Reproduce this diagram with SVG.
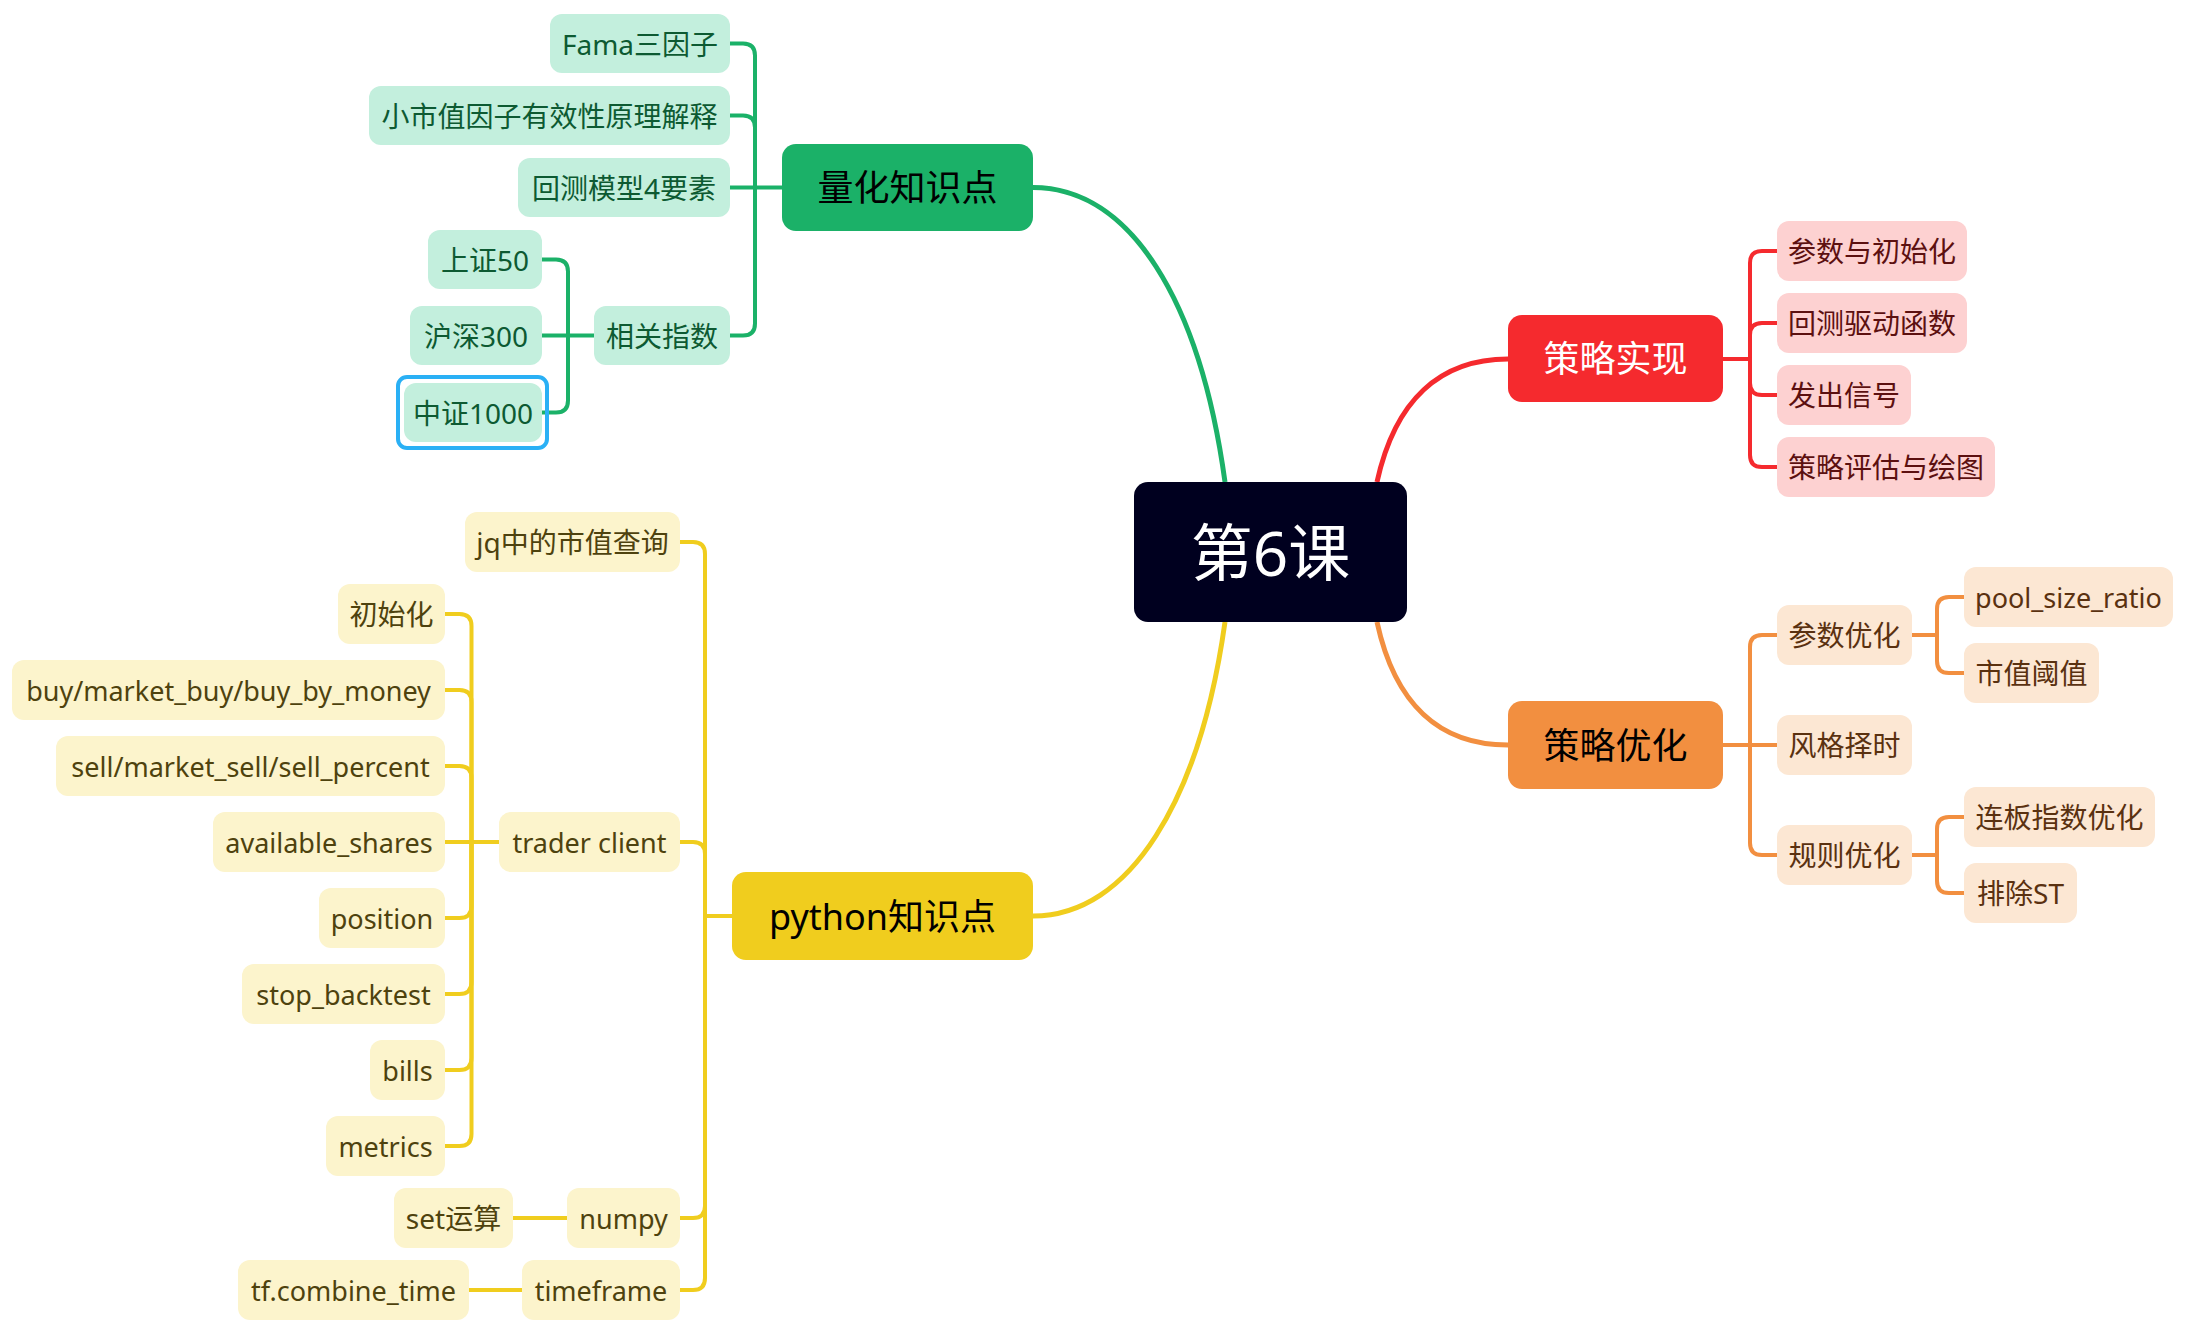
<svg xmlns="http://www.w3.org/2000/svg" width="2210" height="1336" viewBox="0 0 2210 1336">
<style>
text{font-family:"Noto Sans","Noto Sans CJK SC",sans-serif;text-anchor:middle;dominant-baseline:central}
.sub{font-size:28px}
.sub .lat{font-size:27px}
.main{font-size:36px}
.ln{fill:none;stroke-width:4;stroke-linecap:round}
.mc{fill:none;stroke-width:5}
.g{stroke:#1bb168}.r{stroke:#f52a2e}.o{stroke:#f28f40}.y{stroke:#f0cd1e}
.gs rect{fill:#c3efdd}.gs text{fill:#0d5a32}
.rs rect{fill:#fdd1d1}.rs text{fill:#5c1010}
.os rect{fill:#fce7d3}.os text{fill:#5a3110}
.ys rect{fill:#fcf4cc}.ys text{fill:#4e420e}
</style>
<rect width="2210" height="1336" fill="#ffffff"/>
<g id="connectors">
<path class="mc g" d="M1225,482 C1200,300 1130,187.5 1033,187.5"/>
<path class="mc r" d="M1377,482 C1395,400 1440,359 1508,359"/>
<path class="mc o" d="M1377,622 C1395,705 1440,745 1508,745"/>
<path class="mc y" d="M1225,622 C1200,800 1130,916 1033,916"/>
<g class="g">
<path class="ln" d="M782,187.5 H730"/>
<path class="ln" d="M755,187.5 V55.5 Q755,43.5 743,43.5 H730"/>
<path class="ln" d="M755,187.5 V127.5 Q755,115.5 743,115.5 H730"/>
<path class="ln" d="M755,187.5 V323.5 Q755,335.5 743,335.5 H730"/>
<path class="ln" d="M594,335.5 H542"/>
<path class="ln" d="M568,335.5 V271.5 Q568,259.5 556,259.5 H542"/>
<path class="ln" d="M568,335.5 V400.5 Q568,412.5 556,412.5 H542"/>
</g>
<g class="r">
<path class="ln" d="M1723,359 H1750"/>
<path class="ln" d="M1750,359 V263 Q1750,251 1762,251 H1777"/>
<path class="ln" d="M1750,359 V335 Q1750,323 1762,323 H1777"/>
<path class="ln" d="M1750,359 V383 Q1750,395 1762,395 H1777"/>
<path class="ln" d="M1750,359 V455 Q1750,467 1762,467 H1777"/>
</g>
<g class="o">
<path class="ln" d="M1723,745 H1777"/>
<path class="ln" d="M1750,745 V647 Q1750,635 1762,635 H1777"/>
<path class="ln" d="M1750,745 V843 Q1750,855 1762,855 H1777"/>
<path class="ln" d="M1912,635 H1937"/>
<path class="ln" d="M1937,635 V609 Q1937,597 1949,597 H1964"/>
<path class="ln" d="M1937,635 V661 Q1937,673 1949,673 H1964"/>
<path class="ln" d="M1912,855 H1937"/>
<path class="ln" d="M1937,855 V829 Q1937,817 1949,817 H1964"/>
<path class="ln" d="M1937,855 V881 Q1937,893 1949,893 H1964"/>
</g>
<g class="y">
<path class="ln" d="M732,916 H705"/>
<path class="ln" d="M705,916 V554 Q705,542 693,542 H680"/>
<path class="ln" d="M705,916 V854 Q705,842 693,842 H680"/>
<path class="ln" d="M705,916 V1206 Q705,1218 693,1218 H680"/>
<path class="ln" d="M705,916 V1278 Q705,1290 693,1290 H680"/>
<path class="ln" d="M567,1218 H513"/>
<path class="ln" d="M522,1290 H469"/>
<path class="ln" d="M499,842 H445"/>
<path class="ln" d="M471.5,842 V626 Q471.5,614 459.5,614 H445"/>
<path class="ln" d="M471.5,842 V702 Q471.5,690 459.5,690 H445"/>
<path class="ln" d="M471.5,842 V778 Q471.5,766 459.5,766 H445"/>
<path class="ln" d="M471.5,842 V906 Q471.5,918 459.5,918 H445"/>
<path class="ln" d="M471.5,842 V982 Q471.5,994 459.5,994 H445"/>
<path class="ln" d="M471.5,842 V1058 Q471.5,1070 459.5,1070 H445"/>
<path class="ln" d="M471.5,842 V1134 Q471.5,1146 459.5,1146 H445"/>
</g>
</g>

<g id="central"><rect x="1134" y="482" width="273" height="140" rx="14" fill="#00001f"/><text x="1270.5" y="552" font-size="62" fill="#ffffff">第6课</text></g>

<g id="main-lianghua"><rect x="782" y="144" width="251" height="87" rx="14" fill="#1bb168"/><text class="main" x="907.5" y="187.5" fill="#000000">量化知识点</text></g>
<g id="main-celueshixian"><rect x="1508" y="315" width="215" height="87" rx="14" fill="#f52a2e"/><text class="main" x="1615.5" y="358.5" fill="#ffffff">策略实现</text></g>
<g id="main-celueyouhua"><rect x="1508" y="701" width="215" height="88" rx="14" fill="#f28f40"/><text class="main" x="1615.5" y="745" fill="#000000">策略优化</text></g>
<g id="main-python"><rect x="732" y="872" width="301" height="88" rx="14" fill="#f0cd1e"/><text class="main" x="882.5" y="916" fill="#000000">python知识点</text></g>

<g class="gs sub">
<g id="fama"><rect x="550" y="14" width="180" height="59" rx="12"/><text x="640" y="43.5">Fama三因子</text></g>
<g id="xiaoshizhi"><rect x="369" y="86" width="361" height="59" rx="12"/><text x="549.5" y="115.5">小市值因子有效性原理解释</text></g>
<g id="huice4"><rect x="518" y="158" width="212" height="59" rx="12"/><text x="624" y="187.5">回测模型4要素</text></g>
<g id="xiangguanzhishu"><rect x="594" y="306" width="136" height="59" rx="12"/><text x="662" y="335.5">相关指数</text></g>
<g id="sz50"><rect x="428" y="230" width="114" height="59" rx="12"/><text x="485" y="259.5">上证50</text></g>
<g id="hs300"><rect x="410" y="306" width="132" height="59" rx="12"/><text x="476" y="335.5">沪深300</text></g>
<g id="zz1000"><rect x="398" y="377" width="149" height="71" rx="9" fill="none" stroke="#2ab0f5" stroke-width="4" style="fill:none"/><rect x="404" y="383" width="138" height="59" rx="12"/><text x="473" y="412.5">中证1000</text></g>
</g>

<g class="rs sub">
<g id="canshu-chushihua"><rect x="1777" y="221" width="190" height="60" rx="12"/><text x="1872" y="251">参数与初始化</text></g>
<g id="huice-qudong"><rect x="1777" y="293" width="190" height="60" rx="12"/><text x="1872" y="323">回测驱动函数</text></g>
<g id="fachu-xinhao"><rect x="1777" y="365" width="134" height="60" rx="12"/><text x="1844" y="395">发出信号</text></g>
<g id="pinggu-huitu"><rect x="1777" y="437" width="218" height="60" rx="12"/><text x="1886" y="467">策略评估与绘图</text></g>
</g>

<g class="os sub">
<g id="canshu-youhua"><rect x="1777" y="605" width="135" height="60" rx="12"/><text x="1844.5" y="635">参数优化</text></g>
<g id="pool"><rect x="1964" y="567" width="209" height="60" rx="12"/><text class="lat" x="2068.5" y="597">pool_size_ratio</text></g>
<g id="shizhi-fazhi"><rect x="1964" y="643" width="135" height="60" rx="12"/><text x="2031.5" y="673">市值阈值</text></g>
<g id="fengge"><rect x="1777" y="715" width="135" height="60" rx="12"/><text x="1844.5" y="745">风格择时</text></g>
<g id="guize"><rect x="1777" y="825" width="135" height="60" rx="12"/><text x="1844.5" y="855">规则优化</text></g>
<g id="lianban"><rect x="1964" y="787" width="191" height="60" rx="12"/><text x="2059.5" y="817">连板指数优化</text></g>
<g id="paichu-st"><rect x="1964" y="863" width="113" height="60" rx="12"/><text x="2020.5" y="893">排除ST</text></g>
</g>

<g class="ys sub">
<g id="jq"><rect x="465" y="512" width="215" height="60" rx="12"/><text x="572.5" y="542">jq中的市值查询</text></g>
<g id="trader"><rect x="499" y="812" width="181" height="60" rx="12"/><text class="lat" x="589.5" y="842">trader client</text></g>
<g id="numpy"><rect x="567" y="1188" width="113" height="60" rx="12"/><text class="lat" x="623.5" y="1218">numpy</text></g>
<g id="timeframe"><rect x="522" y="1260" width="158" height="60" rx="12"/><text class="lat" x="601" y="1290">timeframe</text></g>
<g id="chushihua"><rect x="338" y="584" width="107" height="60" rx="12"/><text x="391.5" y="614">初始化</text></g>
<g id="buy"><rect x="12" y="660" width="433" height="60" rx="12"/><text class="lat" x="228.5" y="690">buy/market_buy/buy_by_money</text></g>
<g id="sell"><rect x="56" y="736" width="389" height="60" rx="12"/><text class="lat" x="250.5" y="766">sell/market_sell/sell_percent</text></g>
<g id="available"><rect x="213" y="812" width="232" height="60" rx="12"/><text class="lat" x="329" y="842">available_shares</text></g>
<g id="position"><rect x="319" y="888" width="126" height="60" rx="12"/><text class="lat" x="382" y="918">position</text></g>
<g id="stop"><rect x="242" y="964" width="203" height="60" rx="12"/><text class="lat" x="343.5" y="994">stop_backtest</text></g>
<g id="bills"><rect x="370" y="1040" width="75" height="60" rx="12"/><text class="lat" x="407.5" y="1070">bills</text></g>
<g id="metrics"><rect x="326" y="1116" width="119" height="60" rx="12"/><text class="lat" x="385.5" y="1146">metrics</text></g>
<g id="set"><rect x="394" y="1188" width="119" height="60" rx="12"/><text x="453.5" y="1218">set运算</text></g>
<g id="tf"><rect x="238" y="1260" width="231" height="60" rx="12"/><text class="lat" x="353.5" y="1290">tf.combine_time</text></g>
</g>
</svg>
